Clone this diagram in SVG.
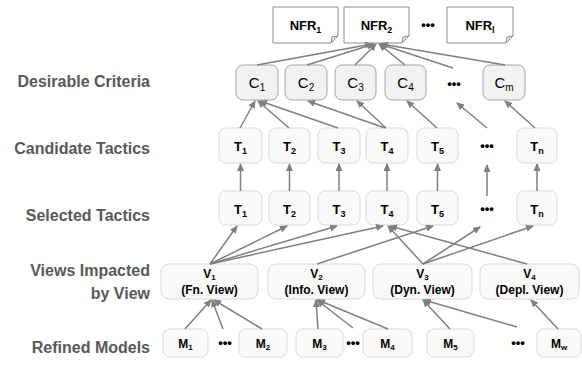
<svg xmlns="http://www.w3.org/2000/svg" width="582" height="368" viewBox="0 0 582 368">
<defs>
<marker id="ah" markerWidth="8" markerHeight="7" refX="7" refY="3.5" orient="auto" markerUnits="userSpaceOnUse">
<path d="M0,0 L8,3.5 L0,7 z" fill="#7f7f7f"/>
</marker>
<style>
.lbl{font-family:"Liberation Sans",Arial,sans-serif;font-weight:bold;font-size:16px;fill:#595959;text-anchor:end}
.nfr{fill:#fff;stroke:#8c8c8c;stroke-width:1}
.fold{fill:#e6e6e6;stroke:#8c8c8c;stroke-width:1}
.cbox{fill:#f2f2f2;stroke:#a6a6a6;stroke-width:1}
.tbox{fill:#fafafa;stroke:#d9d9d9;stroke-width:1}
.t{font-family:"Liberation Sans",Arial,sans-serif;text-anchor:middle;fill:#000}
.b{font-weight:bold}
.dots{font-family:"Liberation Sans",Arial,sans-serif;font-weight:bold;font-size:13px;text-anchor:middle;fill:#000}
.conn line{stroke:#7f7f7f;stroke-width:1.5;marker-end:url(#ah)}
</style>
</defs>
<rect width="582" height="368" fill="#fff"/>
<g id="labels">
<text class="lbl" x="150" y="87">Desirable Criteria</text>
<text class="lbl" x="150" y="154">Candidate Tactics</text>
<text class="lbl" x="150" y="221">Selected Tactics</text>
<text class="lbl" x="150" y="276">Views Impacted</text>
<text class="lbl" x="150" y="299">by View</text>
<text class="lbl" x="150" y="353">Refined Models</text>
</g>
<g id="nfr1"><path class="nfr" d="M273,7 H338 V36 L331,43 H273 Z"/><path class="fold" d="M338,36 L331,43 L332,37 Z"/><text class="t b" x="305.5" y="30" font-size="13">NFR<tspan font-size="9" dy="3">1</tspan></text></g>
<g id="nfr2"><path class="nfr" d="M344,7 H409 V36 L402,43 H344 Z"/><path class="fold" d="M409,36 L402,43 L403,37 Z"/><text class="t b" x="376.5" y="30" font-size="13">NFR<tspan font-size="9" dy="3">2</tspan></text></g>
<text class="dots" x="428" y="29">•••</text>
<g id="nfrl"><path class="nfr" d="M447,7 H513 V36 L506,43 H447 Z"/><path class="fold" d="M513,36 L506,43 L507,37 Z"/><text class="t b" x="480" y="30" font-size="13">NFR<tspan font-size="9" dy="3">l</tspan></text></g>

<g id="c1"><rect class="cbox" x="236" y="65" width="42" height="35" rx="7"/><text class="t" x="257" y="88" font-size="15">C<tspan font-size="10" dy="3">1</tspan></text></g>
<g id="c2"><rect class="cbox" x="285" y="65" width="42" height="35" rx="7"/><text class="t" x="306" y="88" font-size="15">C<tspan font-size="10" dy="3">2</tspan></text></g>
<g id="c3"><rect class="cbox" x="335" y="65" width="41" height="35" rx="7"/><text class="t" x="355.5" y="88" font-size="15">C<tspan font-size="10" dy="3">3</tspan></text></g>
<g id="c4"><rect class="cbox" x="385" y="65" width="41" height="35" rx="7"/><text class="t" x="405.5" y="88" font-size="15">C<tspan font-size="10" dy="3">4</tspan></text></g>
<text class="dots" x="454" y="88">•••</text>
<g id="cm"><rect class="cbox" x="483" y="65" width="42" height="35" rx="7"/><text class="t" x="504" y="88" font-size="15">C<tspan font-size="10" dy="3">m</tspan></text></g>

<g id="ct1"><rect class="tbox" x="219" y="128" width="43" height="35" rx="7"/><text class="t b" x="240.5" y="151" font-size="13">T<tspan font-size="9" dy="3">1</tspan></text></g>
<g id="ct2"><rect class="tbox" x="269" y="128" width="41" height="35" rx="7"/><text class="t b" x="289.5" y="151" font-size="13">T<tspan font-size="9" dy="3">2</tspan></text></g>
<g id="ct3"><rect class="tbox" x="318" y="128" width="42" height="35" rx="7"/><text class="t b" x="339" y="151" font-size="13">T<tspan font-size="9" dy="3">3</tspan></text></g>
<g id="ct4"><rect class="tbox" x="366" y="128" width="42" height="35" rx="7"/><text class="t b" x="387" y="151" font-size="13">T<tspan font-size="9" dy="3">4</tspan></text></g>
<g id="ct5"><rect class="tbox" x="417" y="128" width="41" height="35" rx="7"/><text class="t b" x="437.5" y="151" font-size="13">T<tspan font-size="9" dy="3">5</tspan></text></g>
<text class="dots" x="487" y="150">•••</text>
<g id="ctn"><rect class="tbox" x="517" y="128" width="40" height="35" rx="7"/><text class="t b" x="537" y="151" font-size="13">T<tspan font-size="9" dy="3">n</tspan></text></g>

<g id="st1"><rect class="tbox" x="219" y="191" width="43" height="34" rx="7"/><text class="t b" x="240.5" y="214" font-size="13">T<tspan font-size="9" dy="3">1</tspan></text></g>
<g id="st2"><rect class="tbox" x="269" y="191" width="41" height="34" rx="7"/><text class="t b" x="289.5" y="214" font-size="13">T<tspan font-size="9" dy="3">2</tspan></text></g>
<g id="st3"><rect class="tbox" x="318" y="191" width="42" height="34" rx="7"/><text class="t b" x="339" y="214" font-size="13">T<tspan font-size="9" dy="3">3</tspan></text></g>
<g id="st4"><rect class="tbox" x="366" y="191" width="42" height="34" rx="7"/><text class="t b" x="387" y="214" font-size="13">T<tspan font-size="9" dy="3">4</tspan></text></g>
<g id="st5"><rect class="tbox" x="417" y="191" width="41" height="34" rx="7"/><text class="t b" x="437.5" y="214" font-size="13">T<tspan font-size="9" dy="3">5</tspan></text></g>
<text class="dots" x="487" y="213">•••</text>
<g id="stn"><rect class="tbox" x="517" y="191" width="40" height="34" rx="7"/><text class="t b" x="537" y="214" font-size="13">T<tspan font-size="9" dy="3">n</tspan></text></g>

<g id="v1"><rect class="tbox" x="161" y="264" width="97" height="35" rx="8"/><text class="t b" x="209.5" y="278" font-size="12">V<tspan font-size="8" dy="2">1</tspan></text><text class="t b" x="209.5" y="294" font-size="12">(Fn. View)</text></g>
<g id="v2"><rect class="tbox" x="268" y="264" width="97" height="35" rx="8"/><text class="t b" x="316.5" y="278" font-size="12">V<tspan font-size="8" dy="2">2</tspan></text><text class="t b" x="316.5" y="294" font-size="12">(Info. View)</text></g>
<g id="v3"><rect class="tbox" x="373" y="264" width="99" height="35" rx="8"/><text class="t b" x="422.5" y="278" font-size="12">V<tspan font-size="8" dy="2">3</tspan></text><text class="t b" x="422.5" y="294" font-size="12">(Dyn. View)</text></g>
<g id="v4"><rect class="tbox" x="480" y="264" width="99" height="35" rx="8"/><text class="t b" x="529.5" y="278" font-size="12">V<tspan font-size="8" dy="2">4</tspan></text><text class="t b" x="529.5" y="294" font-size="12">(Depl. View)</text></g>

<g id="m1"><rect class="tbox" x="163" y="329" width="45" height="28" rx="7"/><text class="t b" x="185.5" y="348" font-size="12">M<tspan font-size="8" dy="2">1</tspan></text></g>
<text class="dots" x="225" y="347">•••</text>
<g id="m2"><rect class="tbox" x="239" y="329" width="48" height="28" rx="7"/><text class="t b" x="263" y="348" font-size="12">M<tspan font-size="8" dy="2">2</tspan></text></g>
<g id="m3"><rect class="tbox" x="296" y="329" width="47" height="28" rx="7"/><text class="t b" x="319.5" y="348" font-size="12">M<tspan font-size="8" dy="2">3</tspan></text></g>
<text class="dots" x="353" y="347">•••</text>
<g id="m4"><rect class="tbox" x="363" y="329" width="49" height="28" rx="7"/><text class="t b" x="387.5" y="348" font-size="12">M<tspan font-size="8" dy="2">4</tspan></text></g>
<g id="m5"><rect class="tbox" x="427" y="329" width="47" height="28" rx="7"/><text class="t b" x="450.5" y="348" font-size="12">M<tspan font-size="8" dy="2">5</tspan></text></g>
<text class="dots" x="518" y="347">•••</text>
<g id="mw"><rect class="tbox" x="537" y="329" width="44" height="28" rx="7"/><text class="t b" x="559" y="348" font-size="12">M<tspan font-size="8" dy="2">w</tspan></text></g>

<g id="connectors" class="conn">
<line x1="257" y1="65" x2="372" y2="44"/>
<line x1="307" y1="65" x2="374" y2="44"/>
<line x1="355" y1="65" x2="376" y2="44"/>
<line x1="405" y1="65" x2="379" y2="44"/>
<line x1="453" y1="68" x2="380" y2="44"/>
<line x1="505" y1="65" x2="381" y2="44"/>

<line x1="240" y1="128" x2="255" y2="101"/>
<line x1="289" y1="128" x2="258" y2="101"/>
<line x1="338" y1="128" x2="260" y2="101"/>
<line x1="385" y1="128" x2="308" y2="101"/>
<line x1="386" y1="128" x2="357" y2="101"/>
<line x1="437" y1="128" x2="407" y2="101"/>
<line x1="487" y1="128" x2="457" y2="103"/>
<line x1="535" y1="128" x2="505" y2="101"/>

<line x1="240.5" y1="191" x2="240.5" y2="164"/>
<line x1="289.5" y1="191" x2="289.5" y2="164"/>
<line x1="339" y1="191" x2="339" y2="164"/>
<line x1="387" y1="191" x2="387" y2="164"/>
<line x1="437.5" y1="191" x2="437.5" y2="164"/>
<line x1="487" y1="196" x2="487" y2="165"/>
<line x1="537" y1="191" x2="537" y2="164"/>

<line x1="210" y1="264" x2="237" y2="226"/>
<line x1="210" y1="264" x2="287" y2="226"/>
<line x1="210" y1="264" x2="337" y2="226"/>
<line x1="210" y1="264" x2="383" y2="226"/>
<line x1="317" y1="264" x2="433" y2="226"/>
<line x1="423" y1="264" x2="388" y2="226"/>
<line x1="423" y1="264" x2="480" y2="227"/>
<line x1="423" y1="264" x2="533" y2="226"/>
<line x1="527" y1="264" x2="390" y2="226"/>

<line x1="185" y1="329" x2="211" y2="300"/>
<line x1="223" y1="329" x2="212" y2="300"/>
<line x1="262" y1="329" x2="214" y2="300"/>
<line x1="318" y1="329" x2="316" y2="300"/>
<line x1="353" y1="328" x2="317" y2="300"/>
<line x1="388" y1="329" x2="318" y2="300"/>
<line x1="450" y1="329" x2="423" y2="300"/>
<line x1="517" y1="327" x2="424" y2="300"/>
<line x1="558" y1="329" x2="531" y2="300"/>
</g>
</svg>
